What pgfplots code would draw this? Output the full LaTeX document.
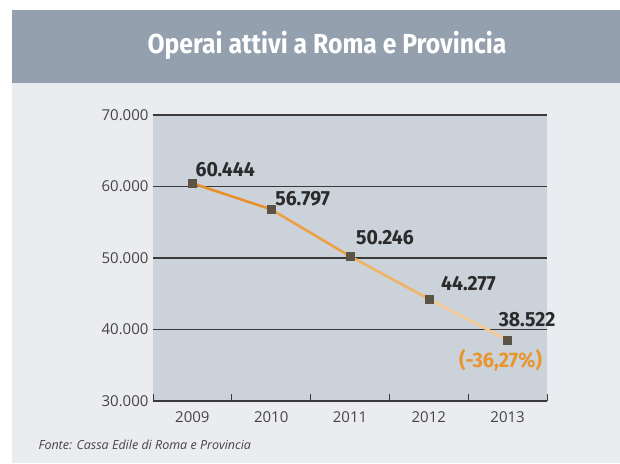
\documentclass[border=0pt]{standalone}
\usepackage{fontspec}
\setmainfont{Open Sans}
\newfontfamily\condfont[FakeStretch=0.9]{Fira Sans}
\newfontfamily\labfont[FakeStretch=0.95]{Fira Sans}
\usepackage{pgfplots}
\pgfplotsset{compat=1.18}

\definecolor{band}{HTML}{94A0AD}
\definecolor{panel}{HTML}{EBECEF}
\definecolor{plotbg}{HTML}{CBD2D9}
\definecolor{axdark}{HTML}{3A3A3A}
\definecolor{tickgray}{HTML}{454545}
\definecolor{labdark}{HTML}{2B2B2B}
\definecolor{markc}{HTML}{5C5347}
\definecolor{segA}{HTML}{E8902C}
\definecolor{segB}{HTML}{EDA047}
\definecolor{segC}{HTML}{F1B365}
\definecolor{segD}{HTML}{F5C994}
\definecolor{pct}{HTML}{E8952F}

\begin{document}
\begin{tikzpicture}[x=1pt,y=1pt]
% page background, grey panel and title band
\fill[white] (0,0) rectangle (620,463);
\fill[panel] (12,0) rectangle (620,453);
\fill[band] (12,380) rectangle (620,453);
\node[text=white, font=\condfont\bfseries\fontsize{27.5}{32}\selectfont] at (327,418) {Operai attivi a Roma e Provincia};
\node[anchor=west, text=tickgray, font=\itshape\fontsize{12.5}{15}\selectfont] at (35,18) {Fonte: Cassa Edile di Roma e Provincia};

\begin{axis}[
    at={(153pt,62pt)}, anchor=south west,
    width=394pt, height=286pt, scale only axis,
    xmin=-0.5, xmax=4.5, ymin=30000, ymax=70000,
    scaled y ticks=false,
    axis background/.style={fill=plotbg},
    axis x line*=bottom, axis y line*=left,
    y axis line style={draw=none},
    x axis line style={draw=axdark, line width=1.4pt},
    xtick={0,1,2,3,4},
    xticklabels={2009,2010,2011,2012,2013},
    minor xtick={-0.5,0.5,1.5,2.5,3.5,4.5},
    major tick length=0pt, minor tick length=7pt, tick align=inside,
    minor tick style={draw=axdark, line width=1pt},
    ytick={30000,40000,50000,60000,70000},
    yticklabels={30.000,40.000,50.000,60.000,70.000},
    ymajorgrids,
    major grid style={draw=axdark, line width=1.2pt},
    tick label style={font=\fontsize{15}{18}\selectfont, text=tickgray},
    xticklabel style={yshift=-7pt},
    yticklabel style={xshift=-1pt},
    clip=false,
]
\addplot[segA, line width=2.6pt] coordinates {(0,60444) (1,56797)};
\addplot[segB, line width=2.6pt] coordinates {(1,56797) (2,50246)};
\addplot[segC, line width=2.6pt] coordinates {(2,50246) (3,44277)};
\addplot[segD, line width=2.6pt] coordinates {(3,44277) (4,38522)};
\addplot[only marks, mark=square*, mark size=4pt, mark options={fill=markc, draw=markc}]
    coordinates {(0,60444) (1,56797) (2,50246) (3,44277) (4,38522)};

\begin{scope}[every node/.style={inner sep=0pt, text=labdark, font=\labfont\bfseries\fontsize{20.5}{24}\selectfont}]
\node[anchor=base west, xshift=3pt, yshift=7pt] at (axis cs:0,60444) {60.444};
\node[anchor=base west, xshift=4pt, yshift=4pt] at (axis cs:1,56797) {56.797};
\node[anchor=base west, xshift=6pt, yshift=12pt] at (axis cs:2,50246) {50.246};
\node[anchor=base west, xshift=12pt, yshift=8pt] at (axis cs:3,44277) {44.277};
\node[anchor=base west, xshift=-9pt, yshift=14pt] at (axis cs:4,38522) {38.522};
\end{scope}
\node[inner sep=0pt, anchor=base, xshift=-7pt, yshift=-27pt, text=pct, font=\labfont\bfseries\fontsize{21}{24}\selectfont] at (axis cs:4,38522) {(-36,27\%)};
\end{axis}
\end{tikzpicture}
\end{document}
